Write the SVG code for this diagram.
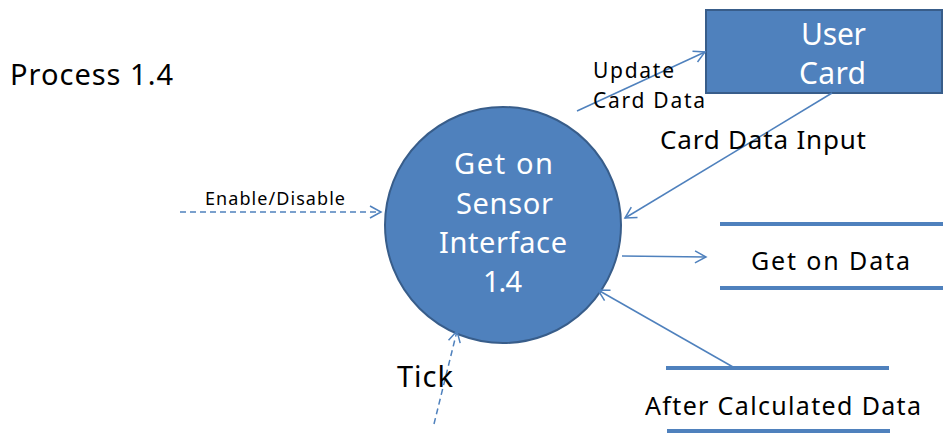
<svg xmlns="http://www.w3.org/2000/svg" width="951" height="434" viewBox="0 0 951 434">
<style>
text{font-family:"Noto Sans","Open Sans","DejaVu Sans",sans-serif;fill:#000}
.w{fill:#fff}
.c{stroke:#4F81BD;stroke-width:1.5;fill:none}
.d{stroke:#4F81BD;stroke-width:1.5;fill:none;stroke-dasharray:6 4}
.s{stroke:#4F81BD;stroke-width:4}
</style>
<defs>
<marker id="a" markerWidth="14" markerHeight="14" refX="12" refY="7" orient="auto" markerUnits="userSpaceOnUse">
<path d="M1,1 L12,7 L1,13" fill="none" stroke="#4F81BD" stroke-width="1.5"/>
</marker>
</defs>
<rect width="951" height="434" fill="#fff"/>
<text x="10" y="85" font-size="29" textLength="163" lengthAdjust="spacing">Process 1.4</text>
<g id="process">
<circle cx="503" cy="225" r="118" fill="#4F81BD" stroke="#385D8A" stroke-width="2"/>
<text class="w" x="454" y="174" font-size="29" textLength="99" lengthAdjust="spacing">Get on</text>
<text class="w" x="456" y="214" font-size="29" textLength="97" lengthAdjust="spacing">Sensor</text>
<text class="w" x="439" y="253" font-size="29" textLength="128" lengthAdjust="spacing">Interface</text>
<text class="w" x="483" y="292" font-size="29" textLength="39" lengthAdjust="spacing">1.4</text>
</g>
<g id="usercard">
<rect x="706" y="10" width="236" height="83" fill="#4F81BD" stroke="#385D8A" stroke-width="2"/>
<text class="w" x="801" y="45" font-size="30" textLength="65" lengthAdjust="spacing">User</text>
<text class="w" x="799" y="84" font-size="30" textLength="67" lengthAdjust="spacing">Card</text>
</g>
<g id="getondata">
<line class="s" x1="720" y1="224" x2="943" y2="224"/>
<line class="s" x1="720" y1="288" x2="943" y2="288"/>
<text x="751" y="270" font-size="25" textLength="159" lengthAdjust="spacing">Get on Data</text>
</g>
<g id="aftercalc">
<line class="s" x1="666" y1="368" x2="889" y2="368"/>
<line class="s" x1="667" y1="431" x2="890" y2="431"/>
<text x="645" y="415" font-size="25" textLength="276" lengthAdjust="spacing">After Calculated Data</text>
</g>
<g id="connectors">
<line class="c" x1="577" y1="111" x2="705" y2="52" marker-end="url(#a)"/>
<line class="c" x1="832" y1="93" x2="625" y2="218" marker-end="url(#a)"/>
<line class="d" x1="180" y1="212" x2="381" y2="212" marker-end="url(#a)"/>
<line class="d" x1="434" y1="424" x2="457" y2="331" marker-end="url(#a)"/>
<line class="c" x1="622" y1="256" x2="706" y2="257" marker-end="url(#a)"/>
<line class="c" x1="733" y1="367" x2="598" y2="290" marker-end="url(#a)"/>
</g>
<g id="labels">
<text x="593" y="78" font-size="21" textLength="81" lengthAdjust="spacing">Update</text>
<text x="593" y="108" font-size="21" textLength="112" lengthAdjust="spacing">Card Data</text>
<text x="660" y="149" font-size="26" textLength="206" lengthAdjust="spacing">Card Data Input</text>
<text x="205" y="205" font-size="18" textLength="140" lengthAdjust="spacing">Enable/Disable</text>
<text x="397" y="387" font-size="29" textLength="56" lengthAdjust="spacing">Tick</text>
</g>
</svg>
